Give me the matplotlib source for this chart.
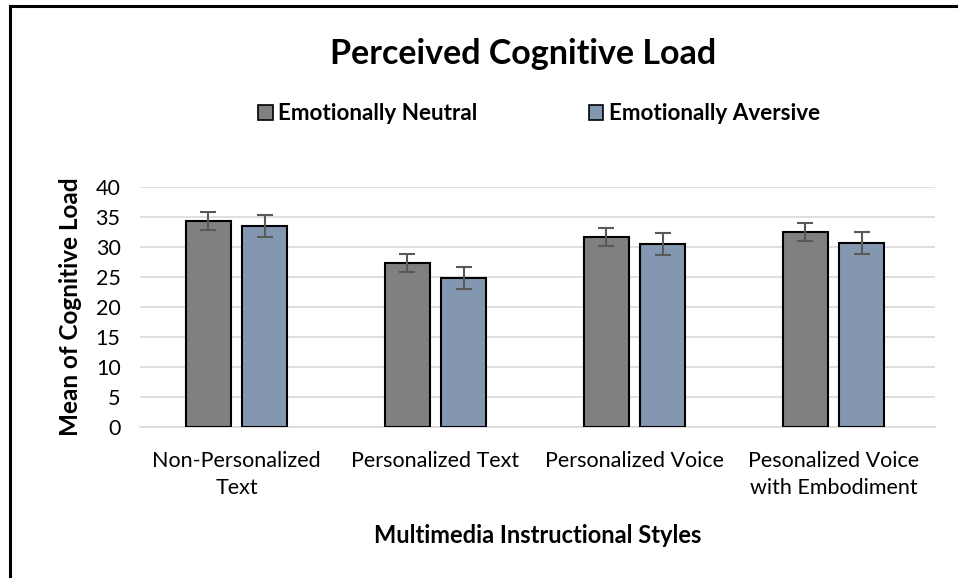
import matplotlib
matplotlib.use("Agg")
import matplotlib.pyplot as plt
from matplotlib.lines import Line2D
from matplotlib.patches import Patch
import numpy as np

categories = ["Non-Personalized\nText", "Personalized Text", "Personalized Voice",
              "Pesonalized Voice\nwith Embodiment"]
series_names = ["Emotionally Neutral", "Emotionally Aversive"]
neutral = [34.4, 27.3, 31.6, 32.55]
aversive = [33.5, 24.8, 30.5, 30.7]
neutral_err = [1.5, 1.5, 1.5, 1.5]
aversive_err = [1.9, 1.85, 1.85, 1.85]
yticks = [0, 5, 10, 15, 20, 25, 30, 35, 40]

plt.rcParams['font.family'] = ['Lato', 'DejaVu Sans']

W, H = 958, 578
fig = plt.figure(figsize=(W / 100, H / 100), dpi=100)
ax = fig.add_axes([140 / W, 151 / H, 795 / W, 240 / H])

x = np.arange(len(categories))
bw = 0.226
off = 0.142
colors = ["#808080", "#8497B0"]
ax.bar(x - off, neutral, bw, color=colors[0], edgecolor="black", linewidth=1.5, zorder=3)
ax.bar(x + off, aversive, bw, color=colors[1], edgecolor="black", linewidth=1.5, zorder=3)
ax.errorbar(x - off, neutral, yerr=neutral_err, fmt="none", ecolor="#595959",
            elinewidth=1.5, capsize=5.6, capthick=1.5, zorder=4)
ax.errorbar(x + off, aversive, yerr=aversive_err, fmt="none", ecolor="#595959",
            elinewidth=1.5, capsize=5.6, capthick=1.5, zorder=4)

ax.set_xlim(-0.485, 3.51)
ax.set_ylim(0, 40)
ax.set_yticks(yticks)
ax.yaxis.grid(True, color="#D9D9D9", linewidth=1.2, zorder=0)
ax.set_axisbelow(True)
for s in ["top", "right", "left"]:
    ax.spines[s].set_visible(False)
ax.spines["bottom"].set_color("#D9D9D9")
ax.spines["bottom"].set_linewidth(1.2)
ax.tick_params(axis="both", length=0, labelsize=15.5, colors="black")
ax.tick_params(axis="y", pad=14)
ax.tick_params(axis="x", pad=17)
ax.set_xticks(x)
ax.set_xticklabels(categories, linespacing=1.45)

ax.set_xlabel("Multimedia Instructional Styles", fontsize=17, fontweight="bold", labelpad=19)
ax.set_ylabel("Mean of Cognitive Load", fontsize=17.5, fontweight="bold", labelpad=10)

fig.text(523 / W, 1 - 54 / H, "Perceived Cognitive Load", fontsize=24.5, fontweight="bold",
         ha="center", va="center")

handles = [Patch(facecolor=colors[0], edgecolor="black", linewidth=1.2),
           Patch(facecolor=colors[1], edgecolor="black", linewidth=1.2)]
fig.legend(handles, series_names, loc="center", bbox_to_anchor=(539 / W, 1 - 114 / H),
           ncol=2, frameon=False, prop={"weight": "bold", "size": 16.2},
           handlelength=0.65, handleheight=0.65, handletextpad=0.25, columnspacing=4.95)

# outer border (top and left)
fig.add_artist(Line2D([10 / W, 1], [1 - 6 / H, 1 - 6 / H], color="black", linewidth=2.2,
                      transform=fig.transFigure))
fig.add_artist(Line2D([10 / W, 10 / W], [0, 1 - 6 / H], color="black", linewidth=2.2,
                      transform=fig.transFigure))

fig.savefig("out.png", dpi=100)
